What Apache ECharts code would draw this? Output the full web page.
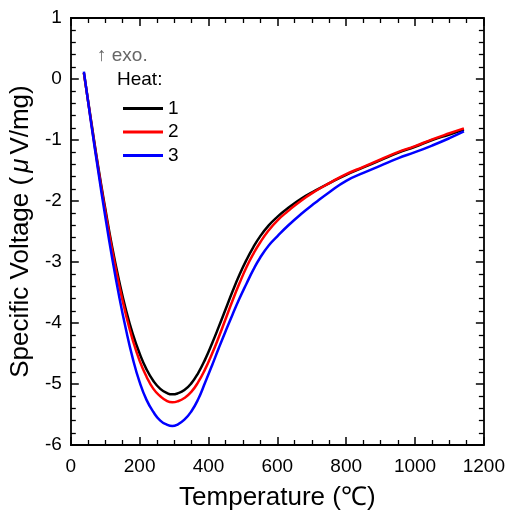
<!DOCTYPE html>
<html>
<head>
<meta charset="utf-8">
<script src="https://cdn.jsdelivr.net/npm/echarts@6/dist/echarts.min.js"></script>
<style>html,body{margin:0;padding:0;background:#fff}#c{width:508px;height:516px}</style>
</head>
<body>
<div id="c"></div>
<script>
// Temperatures (°C) shared by all three heats
const temps = [38,60,80,100,120,140,160,180,200,220,240,260,280,295,310,330,350,370,390,410,430,450,470,490,510,530,550,575,600,630,670,710,750,800,850,900,950,1000,1050,1100,1142];
// Heat 1 (black)
const heat1 = [0.1,-0.72,-1.45,-2.12,-2.75,-3.3,-3.78,-4.18,-4.5,-4.76,-4.95,-5.08,-5.15,-5.17,-5.155,-5.1,-4.99,-4.82,-4.6,-4.34,-4.06,-3.77,-3.48,-3.21,-2.97,-2.76,-2.58,-2.4,-2.26,-2.12,-1.96,-1.83,-1.71,-1.57,-1.45,-1.33,-1.21,-1.11,-1.0,-0.91,-0.83];
// Heat 2 (red)
const heat2 = [0.1,-0.74,-1.48,-2.16,-2.8,-3.37,-3.86,-4.28,-4.62,-4.88,-5.08,-5.2,-5.28,-5.3,-5.285,-5.23,-5.13,-4.97,-4.76,-4.51,-4.23,-3.93,-3.63,-3.35,-3.09,-2.87,-2.68,-2.48,-2.32,-2.17,-1.99,-1.84,-1.71,-1.56,-1.44,-1.32,-1.2,-1.1,-0.99,-0.89,-0.81];
// Heat 3 (blue)
const heat3 = [0.12,-0.76,-1.52,-2.25,-2.93,-3.55,-4.1,-4.58,-4.97,-5.26,-5.46,-5.6,-5.67,-5.69,-5.665,-5.585,-5.45,-5.25,-4.98,-4.7,-4.41,-4.13,-3.86,-3.6,-3.36,-3.13,-2.93,-2.73,-2.58,-2.41,-2.21,-2.03,-1.86,-1.67,-1.54,-1.42,-1.3,-1.2,-1.09,-0.97,-0.86];

const seriesNames = ['1','2','3'];
const seriesColors = ['#000000','#ff0000','#0000ff'];
const xTicks = [0,200,400,600,800,1000,1200];
const yTicks = [-6,-5,-4,-3,-2,-1,0,1];

const zip = v => temps.map((t, i) => [t, v[i]]);
const sets = [zip(heat1), zip(heat2), zip(heat3)];

const FONT = '"Liberation Sans", Arial, sans-serif';
const chart = echarts.init(document.getElementById('c'), null, {renderer: 'canvas'});

const axisCommon = {
  axisLine: {show: true, onZero: false, lineStyle: {color: '#000', width: 1.8}},
  axisTick: {show: true, inside: true, length: 8, lineStyle: {color: '#000', width: 1.5}},
  minorTick: {show: true, splitNumber: 4, length: 5, lineStyle: {color: '#000', width: 1.3}},
  splitLine: {show: false}
};

chart.setOption({
  animation: false,
  backgroundColor: '#fff',
  grid: {left: 67.5, right: 24, top: 18, bottom: 68, containLabel: false},
  legend: {
    show: true, orient: 'vertical', left: 118, top: 94,
    icon: 'rect', itemWidth: 40, itemHeight: 3, itemGap: 4.5, itemTextGap: 4,
    textStyle: {fontFamily: FONT, fontSize: 19, color: '#000'},
    data: seriesNames
  },
  xAxis: [
    Object.assign({}, axisCommon, {
      type: 'value', min: 0, max: 1200, interval: 200, position: 'bottom',
      minorTick: Object.assign({}, axisCommon.minorTick, {splitNumber: 4}),
      axisLabel: {margin: 12, fontFamily: FONT, fontSize: 19, color: '#000',
        formatter: v => xTicks.includes(v) ? String(v) : ''},
      name: 'Temperature (℃)', nameLocation: 'middle', nameGap: 40,
      nameTextStyle: {fontFamily: FONT, fontSize: 26, color: '#000'}
    }),
    Object.assign({}, axisCommon, {
      type: 'value', min: 0, max: 1200, interval: 200, position: 'top',
      minorTick: Object.assign({}, axisCommon.minorTick, {splitNumber: 4}),
      axisLabel: {show: false}
    })
  ],
  yAxis: [
    Object.assign({}, axisCommon, {
      type: 'value', min: -6, max: 1, interval: 1, position: 'left',
      minorTick: Object.assign({}, axisCommon.minorTick, {splitNumber: 5}),
      axisLabel: {margin: 9, fontFamily: FONT, fontSize: 19, color: '#000',
        formatter: v => yTicks.includes(v) ? String(v) : ''},
      name: 'Specific Voltage ({i|μ}V/mg)', nameLocation: 'middle', nameGap: 32, nameRotate: 90,
      nameTextStyle: {fontFamily: FONT, fontSize: 26, color: '#000',
        rich: {i: {fontFamily: FONT, fontSize: 26, fontStyle: 'italic', color: '#000', padding: [0, 4, 0, 4]}}}
    }),
    Object.assign({}, axisCommon, {
      type: 'value', min: -6, max: 1, interval: 1, position: 'right',
      minorTick: Object.assign({}, axisCommon.minorTick, {splitNumber: 5}),
      axisLabel: {show: false}
    })
  ],
  graphic: [
    {type: 'text', left: 97, top: 46, style: {text: '↑ exo.', fontFamily: FONT, fontSize: 19, fill: '#666'}},
    {type: 'text', left: 117, top: 70, style: {text: 'Heat:', fontFamily: FONT, fontSize: 19, fill: '#000'}}
  ],
  series: sets.map((d, i) => ({
    name: seriesNames[i], type: 'line', data: d, smooth: 0.5, showSymbol: false,
    xAxisIndex: 0, yAxisIndex: 0,
    lineStyle: {color: seriesColors[i], width: 2.5}, itemStyle: {color: seriesColors[i]},
    z: 10 + i
  }))
});
</script>
</body>
</html>
